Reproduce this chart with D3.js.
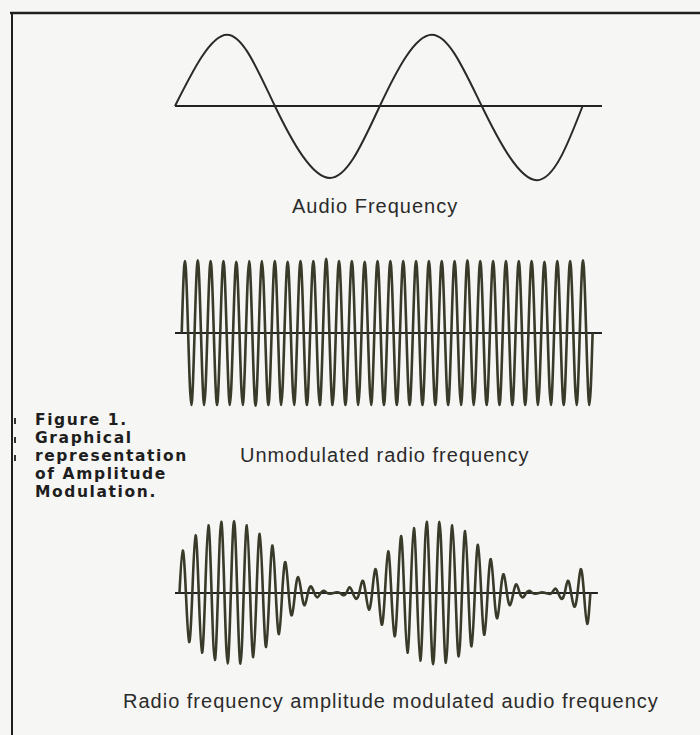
<!DOCTYPE html>
<html>
<head>
<meta charset="utf-8">
<script src="https://cdn.jsdelivr.net/npm/d3@7"></script>
<style>
  html, body { margin: 0; padding: 0; background: #f6f6f4; }
  .rotulo { font-family: "Liberation Sans", Arial, sans-serif; font-size: 20px; letter-spacing: 1px; fill: #2b2b2b; }
  .leyenda { font-family: "DejaVu Sans", sans-serif; font-weight: bold; font-size: 15.5px; letter-spacing: 1.6px; fill: #1e1e1e; }
</style>
</head>
<body>
<svg id="figura"></svg>
<script>
/////////////////////////////////////////////////////////
// datos (amplitud en % del maximo,
// tiempo en ms, un periodo de audio ~ 1 ms)
/////////////////////////////////////////////////////////

// onda de audio: puntos de cruce y extremos
var audioTiempo   = [0, 0.255, 0.49, 0.76, 1.005, 1.26, 1.505, 1.775, 2.0];
var audioAmplitud = [0, 99, 0, -100, 0, 99, 0, -103, 0];

// portadora sin modular: 32 ciclos (picos y valles)
var rfPicos  = [100, 101, 100, 100, 99, 100, 100, 100, 99, 100, 100, 103,
                100, 100, 99, 100, 100, 100, 100, 100, 100, 100, 101, 100,
                100, 100, 100, 100, 99, 100, 100, 101];
var rfValles = [100, 100, 100, 100, 100, 101, 100, 100, 100, 100, 100, 100,
                100, 100, 100, 100, 100, 100, 100, 100, 100, 100, 100, 100,
                100, 100, 100, 100, 100, 100, 100, 100];

// portadora modulada: extremos alternos (pico, valle, pico, ...)
var amExtremos = [59, 68, 80, 83, 94, 93, 99, 98, 100, 98, 94, 89,
                  82, 75, 66, 57, 43, 31, 22, 17, 9, 6, 3, 1,
                  1, 3, 8, 8, 17, 23, 33, 44, 58, 60, 79, 83,
                  90, 94, 99, 99, 99, 97, 94, 88, 86, 74, 67, 58,
                  47, 35, 26, 17, 12, 6, 3, 1, 1, 1, 6, 8,
                  17, 19, 33, 43];

var periodoPortadora = 0.063;   // ms
var inicioRF = 0.033;
var inicioAM = 0.022;

var titulos = ["Audio Frequency",
               "Unmodulated radio frequency",
               "Radio frequency amplitude modulated audio frequency"];

var leyenda = ["Figure 1.", "Graphical", "representation", "of Amplitude", "Modulation."];

/////////////////////////////////////////////////////////
// dimensiones
/////////////////////////////////////////////////////////

var w = 700;
var h = 735;

var svg = d3.select("#figura")
            .attr("width", w)
            .attr("height", h);

// escala de tiempo comun para los tres graficos
var xScale = d3.scaleLinear()
               .domain([0, 2.1])
               .range([175, 603]);

// una escala vertical por grafico
function escalaY(centro) {
    return d3.scaleLinear()
             .domain([-100, 100])
             .range([centro + 72, centro - 72]);
}

var yAudio = escalaY(106);
var yRF    = escalaY(333);
var yAM    = escalaY(593);

/////////////////////////////////////////////////////////
// convertir extremos en puntos (cruce, extremo, cruce..)
/////////////////////////////////////////////////////////

function puntosPortadora(inicio, extremos) {
    var medio = periodoPortadora / 2;
    var pts = [{t: inicio, v: 0}];
    extremos.forEach(function(a, k) {
        var signo = (k % 2 === 0) ? 1 : -1;
        pts.push({t: inicio + (k + 0.5) * medio, v: signo * a});
        pts.push({t: inicio + (k + 1) * medio, v: 0});
    });
    return pts;
}

var audioDatos = audioTiempo.map(function(t, i) { return {t: t, v: audioAmplitud[i]}; });

var rfExtremos = [];
rfPicos.forEach(function(p, i) { rfExtremos.push(p); rfExtremos.push(rfValles[i]); });

var rfDatos = puntosPortadora(inicioRF, rfExtremos);
var amDatos = puntosPortadora(inicioAM, amExtremos);

/////////////////////////////////////////////////////////
// marco
/////////////////////////////////////////////////////////

svg.append("line")
   .attr("x1", 10).attr("x2", w)
   .attr("y1", 13).attr("y2", 13)
   .attr("stroke", "#1f1f1f").attr("stroke-width", 2.5);

svg.append("line")
   .attr("x1", 12).attr("x2", 12)
   .attr("y1", 12).attr("y2", h)
   .attr("stroke", "#1f1f1f").attr("stroke-width", 2);

// marcas pequenas junto a la leyenda
[418, 437, 455].forEach(function(y) {
    svg.append("line")
       .attr("x1", 15).attr("x2", 15)
       .attr("y1", y).attr("y2", y + 6)
       .attr("stroke", "#333").attr("stroke-width", 2);
});

/////////////////////////////////////////////////////////
// ejes horizontales
/////////////////////////////////////////////////////////

function ejeCero(yScale, tFin) {
    svg.append("line")
       .attr("x1", xScale(0)).attr("x2", xScale(tFin))
       .attr("y1", yScale(0)).attr("y2", yScale(0))
       .attr("stroke", "#222").attr("stroke-width", 2);
}

ejeCero(yAudio, 2.095);
ejeCero(yRF, 2.095);
ejeCero(yAM, 2.075);

/////////////////////////////////////////////////////////
// ondas
/////////////////////////////////////////////////////////

function dibujaOnda(datos, yScale, grosor, color) {
    var line = d3.line()
                 .x(function(d) { return xScale(d.t); })
                 .y(function(d) { return yScale(d.v); })
                 .curve(d3.curveNatural);

    svg.append("path")
       .datum(datos)
       .attr("fill", "none")
       .attr("stroke", color)
       .attr("stroke-width", grosor)
       .attr("stroke-linejoin", "round")
       .attr("d", line);
}

dibujaOnda(audioDatos, yAudio, 2, "#2a2a2a");
dibujaOnda(rfDatos, yRF, 2.6, "#3a3a2a");
dibujaOnda(amDatos, yAM, 2.6, "#3a3a2a");

/////////////////////////////////////////////////////////
// titulos y leyenda
/////////////////////////////////////////////////////////

var posTitulos = [[292, 213], [240, 462], [123, 708]];

titulos.forEach(function(t, i) {
    svg.append("text")
       .attr("class", "rotulo")
       .attr("x", posTitulos[i][0])
       .attr("y", posTitulos[i][1])
       .text(t);
});

// la leyenda es un solo bloque de texto en varias lineas
var bloque = svg.append("text")
                .attr("class", "leyenda")
                .attr("x", 35)
                .attr("y", 425);

bloque.selectAll("tspan")
      .data(leyenda)
      .enter()
      .append("tspan")
      .attr("x", 35)
      .attr("dy", function(d, i) { return i === 0 ? 0 : 18; })
      .text(function(d) { return d; });
</script>
</body>
</html>
